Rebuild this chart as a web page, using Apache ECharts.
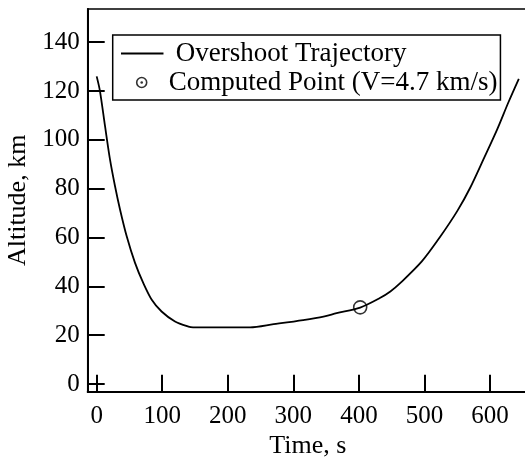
<!DOCTYPE html>
<html>
<head>
<meta charset="utf-8">
<script src="https://cdn.jsdelivr.net/npm/echarts@6/dist/echarts.min.js"></script>
<style>html,body{margin:0;padding:0;background:#fff;}#c{width:525px;height:466px;}</style>
</head>
<body>
<div id="c"></div>
<script>
const timeS = [0, 5, 12.7, 20.3, 28, 35.6, 45.8, 58.5, 71, 84, 99, 119.5, 140, 147, 234, 270, 315, 346, 366, 402, 432, 448, 463, 496, 524, 550, 570, 590, 611, 628, 644];
const altitudeKm = [126, 120, 105.7, 92, 81, 71.5, 60.5, 49.6, 41.4, 34.5, 29.7, 25.6, 23.5, 23.2, 23.2, 24.5, 26.2, 27.6, 29.0, 31.3, 35.2, 37.9, 41.3, 50.2, 60.3, 70.8, 80.5, 92, 104.3, 115.3, 125];
const pointTime = [402];
const pointAlt = [31.4];
const xTicks = [0, 100, 200, 300, 400, 500, 600];
const yTicks = [0, 20, 40, 60, 80, 100, 120, 140];
const seriesNames = ['Overshoot Trajectory', 'Computed Point (V=4.7 km/s)'];

const FONT = "'Liberation Serif', 'DejaVu Serif', serif";
function svgUrl(s) { return 'image://data:image/svg+xml;charset=utf-8,' + encodeURIComponent(s); }
const ringIcon = svgUrl("<svg xmlns='http://www.w3.org/2000/svg' width='43' height='27' viewBox='0 0 43 27'><circle cx='21' cy='13.5' r='5' fill='none' stroke='black' stroke-width='1.6'/><circle cx='21' cy='13.5' r='1.3' fill='black'/></svg>");
const lineIcon = svgUrl("<svg xmlns='http://www.w3.org/2000/svg' width='43' height='27' viewBox='0 0 43 27'><line x1='0' y1='13.5' x2='43' y2='13.5' stroke='black' stroke-width='1.8'/></svg>");

const chart = echarts.init(document.getElementById('c'), null, {renderer: 'canvas'});
chart.setOption({
  animation: false,
  backgroundColor: '#fff',
  grid: {
    left: 87.7, top: 9, right: -3, bottom: 74.3,
    containLabel: false, outerBoundsMode: 'none',
    show: true, borderColor: '#000', borderWidth: 1.5, backgroundColor: 'transparent'
  },
  legend: {
    orient: 'vertical',
    left: 112.7, top: 35,
    padding: [5, 3, 4, 8],
    itemGap: 2,
    itemWidth: 43, itemHeight: 27,
    borderColor: '#000', borderWidth: 1.5,
    backgroundColor: '#fff',
    textStyle: {fontFamily: FONT, fontSize: 27, color: '#000', lineHeight: 27,
      rich: {p: {width: 7, fontFamily: FONT, fontSize: 27}}},
    formatter: function (name) {
      return name === seriesNames[0] ? '{p|}' + name : name;
    },
    data: [
      {name: seriesNames[0], icon: lineIcon},
      {name: seriesNames[1], icon: ringIcon}
    ]
  },
  xAxis: {
    type: 'value', min: -13.7, max: 658,
    name: 'Time, s', nameLocation: 'middle', nameGap: 30,
    nameTextStyle: {fontFamily: FONT, fontSize: 26, color: '#000'},
    axisLine: {show: true, onZero: false, lineStyle: {color: '#000', width: 2}},
    axisTick: {show: true, inside: true, length: 17, customValues: xTicks, lineStyle: {color: '#000', width: 2}},
    axisLabel: {show: true, customValues: xTicks, margin: 12, fontFamily: FONT, fontSize: 25, color: '#000'},
    splitLine: {show: false}
  },
  yAxis: {
    type: 'value', min: -3.15, max: 153.6,
    name: 'Altitude, km', nameLocation: 'middle', nameGap: 53,
    nameTextStyle: {fontFamily: FONT, fontSize: 26, color: '#000'},
    axisLine: {show: true, onZero: false, lineStyle: {color: '#000', width: 2}},
    axisTick: {show: true, inside: true, length: 17, customValues: yTicks, lineStyle: {color: '#000', width: 2}},
    axisLabel: {show: true, customValues: yTicks, margin: 8, fontFamily: FONT, fontSize: 25, color: '#000'},
    splitLine: {show: false}
  },
  series: [
    {
      name: seriesNames[0], type: 'line',
      data: timeS.map((t, i) => [t, altitudeKm[i]]),
      showSymbol: false, symbol: 'none',
      smooth: 0.3,
      lineStyle: {color: '#000', width: 1.8},
      itemStyle: {color: '#000'},
      z: 3
    },
    {
      name: seriesNames[1], type: 'scatter',
      data: pointTime.map((t, i) => [t, pointAlt[i]]),
      symbol: 'circle', symbolSize: 13,
      itemStyle: {color: 'rgba(0,0,0,0)', borderColor: '#000', borderWidth: 1.6},
      z: 4
    }
  ]
});
</script>
</body>
</html>
